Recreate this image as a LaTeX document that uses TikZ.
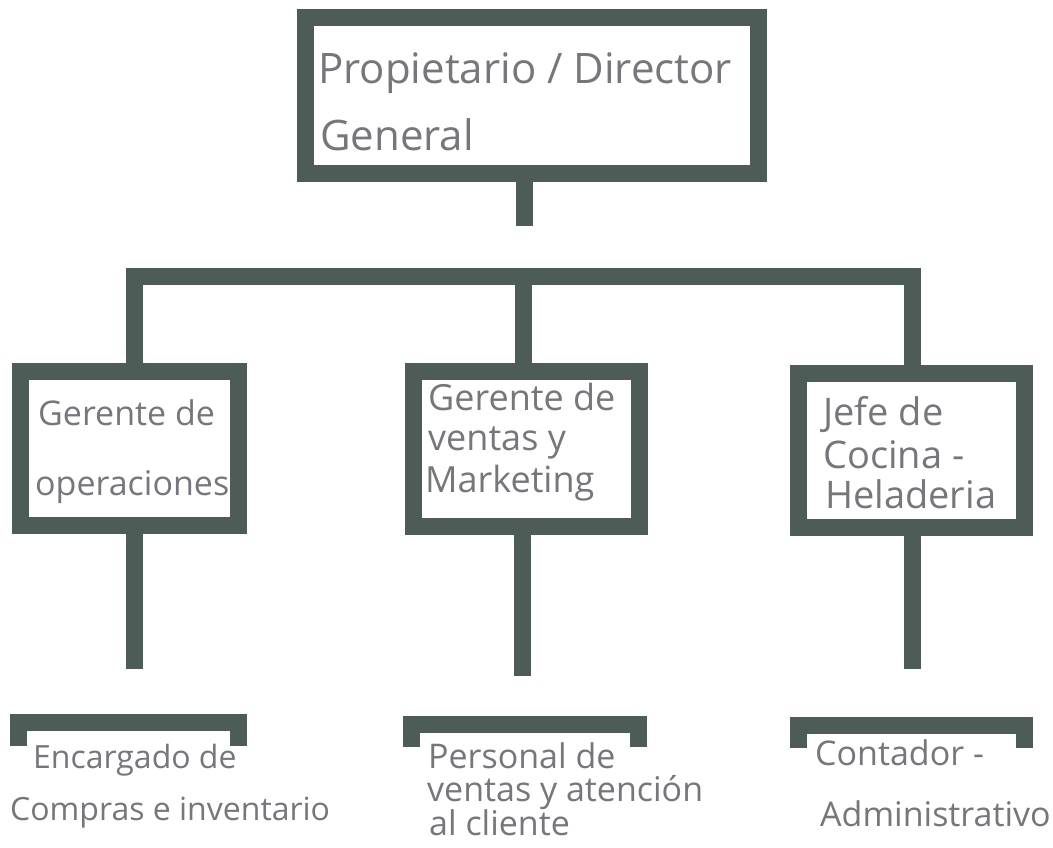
\documentclass[tikz,border=0pt]{standalone}
\usepackage{fontspec}
\setmainfont{Open Sans}
\definecolor{frame}{RGB}{78,92,88}
\definecolor{pencil}{RGB}{118,118,124}
\begin{document}
\begin{tikzpicture}[x=1pt,y=-1pt,
  box/.style={draw=frame, line width=17pt, inner sep=0pt, rectangle, line join=miter},
  conn/.style={draw=frame, line width=17pt, line join=miter, line cap=butt},
  txt/.style={anchor=base west, inner sep=0pt, text=pencil}]
\useasboundingbox[fill=white] (0,0) rectangle (1053,847);

% boxes
\node[box, minimum width=453pt, minimum height=156pt] (dir) at (532,95.5) {};
\node[box, minimum width=218pt, minimum height=154pt] (ops) at (129.5,448.5) {};
\node[box, minimum width=226pt, minimum height=155pt] (ven) at (526.5,449) {};
\node[box, minimum width=226pt, minimum height=154pt] (coc) at (911.5,450.5) {};

% connectors
\coordinate (dirEnd) at (524,226);
\coordinate (busL) at (134.5,276.5);
\coordinate (busM) at (523.5,276.5);
\coordinate (busR) at (912.5,276.5);
\draw[conn] (dir.south -| dirEnd) -- (dirEnd);
\draw[conn] (ops.north -| busL) -- (busL) -- (busR) -- (coc.north -| busR);
\draw[conn] (busM) -- (ven.north -| busM);

\coordinate (opsEnd) at (134.5,669);
\coordinate (venEnd) at (522,676);
\coordinate (cocEnd) at (912.5,669);
\draw[conn] (ops.south -| opsEnd) -- (opsEnd);
\draw[conn] (ven.south -| venEnd) -- (venEnd);
\draw[conn] (coc.south -| cocEnd) -- (cocEnd);

% open boxes at the bottom
\draw[conn] (18.5,746) -- (18.5,722.5) -- (238.5,722.5) -- (238.5,746);
\draw[conn] (411.5,747) -- (411.5,724.5) -- (638.5,724.5) -- (638.5,747);
\draw[conn] (798.5,748) -- (798.5,725.5) -- (1024.5,725.5) -- (1024.5,748);

% texts
\begin{scope}[every node/.append style={font=\fontsize{42}{50}\selectfont}]
\node[txt] (t1a) at (318,83) {Propietario / Director};
\node[txt] (t1b) at (320,150) {General};
\end{scope}
\begin{scope}[every node/.append style={font=\fontsize{34}{40}\selectfont}]
\node[txt] (t2a) at (38,425) {Gerente de};
\node[txt] (t2b) at (35,495) {operaciones};
\end{scope}
\begin{scope}[every node/.append style={font=\fontsize{36}{40}\selectfont}]
\node[txt] (t3a) at (428,410) {Gerente de};
\node[txt] (t3b) at (428,450) {ventas y};
\node[txt] (t3c) at (425,492) {Marketing};
\end{scope}
\begin{scope}[every node/.append style={font=\fontsize{38}{40}\selectfont}]
\node[txt] (t4a) at (823,425) {Jefe de};
\node[txt] (t4b) at (823,468) {Cocina -};
\node[txt] (t4c) at (825,508) {Heladeria};
\end{scope}
\begin{scope}[every node/.append style={font=\fontsize{32}{40}\selectfont}]
\node[txt] (t5a) at (33,768) {Encargado de};
\node[txt] (t5b) at (10,820) {Compras e inventario};
\end{scope}
\begin{scope}[every node/.append style={font=\fontsize{34}{40}\selectfont}]
\node[txt] (t6a) at (428,768) {Personal de};
\node[txt] (t6b) at (427,801) {ventas y atención};
\node[txt] (t6c) at (429,835) {al cliente};
\end{scope}
\begin{scope}[every node/.append style={font=\fontsize{34}{40}\selectfont}]
\node[txt] (t7a) at (815,765) {Contador -};
\node[txt] (t7b) at (820,826) {Administrativo};
\end{scope}
\end{tikzpicture}
\end{document}
